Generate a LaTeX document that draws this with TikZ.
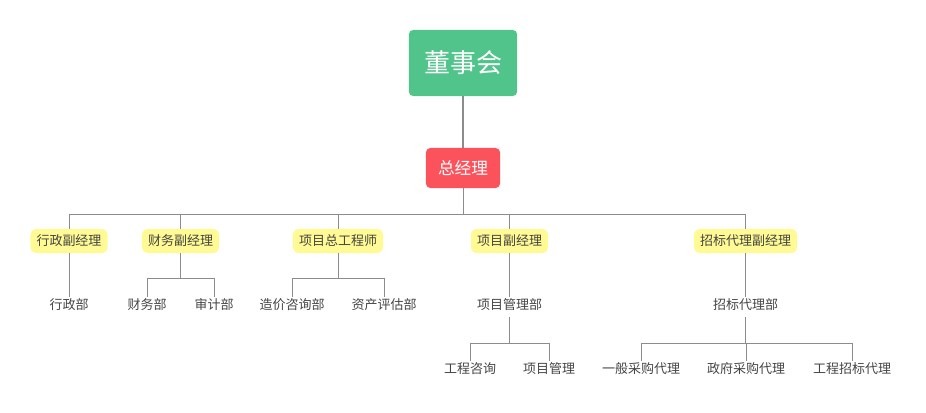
\documentclass[tikz,border=0pt]{standalone}
\usepackage{fontspec}
\newfontfamily\cjk{Noto Sans CJK SC}
\definecolor{boardgreen}{HTML}{50C48A}
\definecolor{gmred}{HTML}{FC525C}
\definecolor{vpyellow}{HTML}{FFFA93}
\definecolor{linegray}{HTML}{8C8C8C}
\definecolor{txtgray}{HTML}{444444}
\begin{document}
\begin{tikzpicture}[x=0.75pt,y=-0.75pt,
  board/.style={fill=boardgreen,rounded corners=3.5pt,text=white,font=\cjk\fontsize{19.5}{22}\selectfont,minimum width=81bp,minimum height=49.5bp,inner sep=0pt},
  gm/.style={fill=gmred,rounded corners=3.5pt,text=white,font=\cjk\fontsize{12.5}{15}\selectfont,minimum width=55.5bp,minimum height=30bp,inner sep=0pt},
  vp/.style={fill=vpyellow,rounded corners=4.5pt,text=txtgray,font=\cjk\fontsize{9.75}{12}\selectfont,minimum height=18bp,inner xsep=4.5bp,inner ysep=0pt},
  dept/.style={text=txtgray,font=\cjk\fontsize{9.75}{12}\selectfont,inner sep=0pt,minimum height=12bp},
  conn/.style={draw=linegray,line width=0.75pt},
  thick conn/.style={draw=linegray,line width=1.5pt}]
\useasboundingbox (0,0) rectangle (926,412);
% top
\node[board] (board) at (463,63) {董事会};
\node[gm] (gm) at (463,168) {总经理};
\draw[thick conn] (board.south) -- (gm.north);
% level 2
\node[vp] (vp1) at (69,241) {行政副经理};
\node[vp] (vp2) at (180.5,241) {财务副经理};
\node[vp] (vp3) at (338,241) {项目总工程师};
\node[vp] (vp4) at (509.5,241) {项目副经理};
\node[vp] (vp5) at (745.5,241) {招标代理副经理};
\coordinate (bus) at (463,214);
\draw[conn] (gm.south) -- (bus);
\foreach \v in {vp1,vp2,vp3,vp4,vp5}{\draw[conn] (bus -| \v.north) -- (\v.north);}
\draw[conn] (bus -| vp1.north) -- (bus -| vp5.north);
% level 3
\node[dept] (d1) at (69,305) {行政部};
\node[dept] (d2) at (147,305) {财务部};
\node[dept] (d3) at (214,305) {审计部};
\node[dept] (d4) at (292,305) {造价咨询部};
\node[dept] (d5) at (384,305) {资产评估部};
\node[dept] (d6) at (509.5,305) {项目管理部};
\node[dept] (d7) at (745.5,305) {招标代理部};
\draw[conn] (vp1.south) -- (d1.north);
\draw[conn] (vp4.south) -- (d6.north);
\draw[conn] (vp5.south) -- (d7.north);
\coordinate (b2) at (180.5,278);
\coordinate (b3) at (338,278);
\draw[conn] (vp2.south) -- (b2);
\draw[conn] (b2 -| d2.north) -- (b2 -| d3.north);
\draw[conn] (b2 -| d2.north) -- (d2.north);
\draw[conn] (b2 -| d3.north) -- (d3.north);
\draw[conn] (vp3.south) -- (b3);
\draw[conn] (b3 -| d4.north) -- (b3 -| d5.north);
\draw[conn] (b3 -| d4.north) -- (d4.north);
\draw[conn] (b3 -| d5.north) -- (d5.north);
% level 4
\node[dept] (e1) at (470,369) {工程咨询};
\node[dept] (e2) at (549,369) {项目管理};
\node[dept] (e3) at (641,369) {一般采购代理};
\node[dept] (e4) at (746,369) {政府采购代理};
\node[dept] (e5) at (852,369) {工程招标代理};
\coordinate (b6) at (509.5,343);
\coordinate (b7) at (745.5,343);
\draw[conn] ([yshift=-3pt]d6.south) -- (b6);
\draw[conn] (b6 -| e1.north) -- (b6 -| e2.north);
\draw[conn] (b6 -| e1.north) -- (e1.north);
\draw[conn] (b6 -| e2.north) -- (e2.north);
\draw[conn] ([yshift=-3pt]d7.south) -- (b7);
\draw[conn] (b7 -| e3.north) -- (b7 -| e5.north);
\foreach \e in {e3,e4,e5}{\draw[conn] (b7 -| \e.north) -- (\e.north);}
\end{tikzpicture}
\end{document}
